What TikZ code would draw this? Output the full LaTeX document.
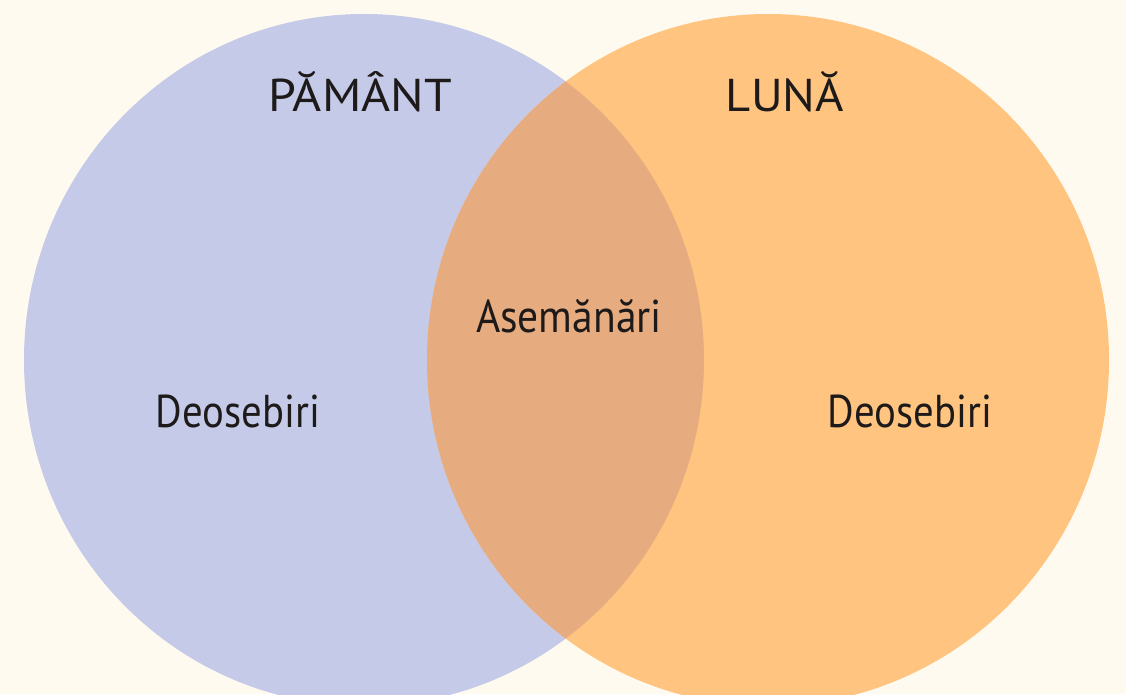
\documentclass[tikz,border=0pt]{standalone}
\usepackage{fontspec}
\setmainfont{PT Sans}[FakeStretch=0.86]
\definecolor{bg}{HTML}{FFFAF0}
\definecolor{earth}{HTML}{C4CAE8}
\definecolor{moon}{HTML}{FFC47F}
\definecolor{both}{HTML}{E6AC7F}
\definecolor{ink}{HTML}{1E1A1A}
\begin{document}
\begin{tikzpicture}[x=1pt,y=1pt,
  lbl/.style={anchor=base,inner sep=0pt,text=ink,font=\fontsize{46}{50}\selectfont}]
\fill[bg] (0,0) rectangle (1126,694);
\useasboundingbox (0,0) rectangle (1126,694);
\begin{scope}
\clip (0,0) rectangle (1126,694);
\fill[earth] (364,334) ellipse [x radius=340, y radius=346];
\fill[moon] (768,334) ellipse [x radius=341, y radius=346];
\begin{scope}
\clip (364,334) ellipse [x radius=340, y radius=346];
\fill[both] (768,334) ellipse [x radius=341, y radius=346];
\end{scope}
\end{scope}
\node[lbl] (pamant) at (360,582) {\scalebox{1.26}[1]{PĂMÂNT}};
\node[lbl] (luna) at (785,582) {\scalebox{1.23}[1]{LUNĂ}};
\node[lbl] (asem) at (569,361) {\scalebox{1.05}[1]{Asemănări}};
\node[lbl] (deosL) at (238,267) {\scalebox{1.03}[1]{Deosebiri}};
\node[lbl] (deosR) at (910,267) {\scalebox{1.03}[1]{Deosebiri}};
\end{tikzpicture}
\end{document}
